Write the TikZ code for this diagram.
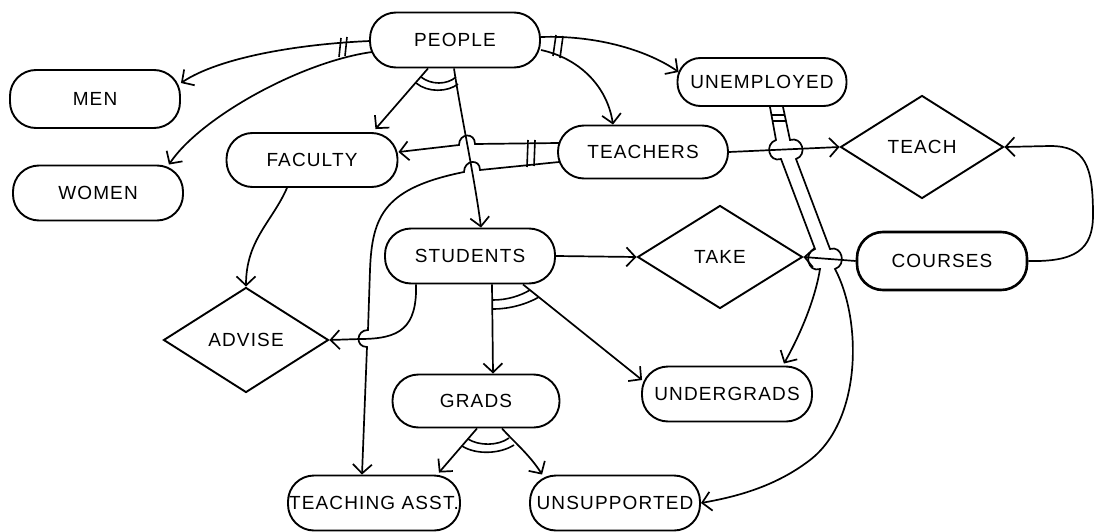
\documentclass[tikz,border=0pt]{standalone}
\usepackage{fontspec}
\setmainfont{Liberation Sans}[LetterSpace=6]
\usetikzlibrary{shapes.geometric,arrows.meta,calc}
\begin{document}
\begin{tikzpicture}[x=1pt,y=-1pt,
  every node/.style={font=\fontsize{19}{21}\selectfont},
  entity/.style={draw, line width=1.9pt, rectangle, rounded corners=26pt,
    minimum width=170pt, minimum height=55pt, inner sep=0pt},
  rel/.style={draw, line width=1.9pt, diamond, inner sep=0pt},
  isa/.style={line width=1.7pt, -{Straight Barb[length=9pt,width=19pt,line width=1.7pt]}},
  tickmark/.style={line width=1.6pt}
]
\useasboundingbox (0,0) rectangle (1094,532);
\fill[white] (0,0) rectangle (1094,532);

% entities
\node[entity] (people) at (455,40) {PEOPLE};
\node[entity, minimum height=58pt] (men) at (95,99) {MEN};
\node[entity] (women) at (98,193) {WOMEN};
\node[entity, minimum width=171pt, minimum height=54pt] (faculty) at (312,160) {FACULTY};
\node[entity, minimum height=53pt] (teachers) at (643,152) {TEACHERS};
\node[entity, minimum width=169pt, minimum height=48pt, rounded corners=23pt] (unemployed) at (762,82) {UNEMPLOYED};
\node[entity, minimum height=58pt, line width=2.6pt] (courses) at (942,261) {COURSES};
\node[entity] (students) at (470,256) {STUDENTS};
\node[entity, minimum width=167pt, minimum height=53pt] (grads) at (476,401) {GRADS};
\node[entity] (undergrads) at (727,394) {UNDERGRADS};
\node[entity, minimum width=172pt] (ta) at (374,503) {TEACHING ASST.};
\node[entity] (unsup) at (615,503) {UNSUPPORTED};

% relationships
\node[rel, minimum width=163pt, minimum height=103pt] (teach) at (922,147) {TEACH};
\node[rel, minimum width=165pt, minimum height=103pt] (take) at (720,257) {TAKE};
\node[rel, minimum width=165pt, minimum height=105pt] (advise) at (246,340) {ADVISE};

% PEOPLE -> MEN, WOMEN
\draw[isa] ($(people.west)+(1,1)$) .. controls (300,44) and (220,57) .. ($(men.east)+(0,-16)$);
\draw[isa] ($(people.west)+(3,12)$) .. controls (300,62) and (200,118) .. ($(women.north east)+(-15,0)$);
\draw[tickmark] (341,38) -- (339,57);
\draw[tickmark] (347,37) -- (345,56);

% PEOPLE -> FACULTY, STUDENTS
\draw[isa] ($(people.south)+(-27,0)$) -- ($(faculty.north east)+(-23,-3)$);
\draw[isa] ($(people.south)+(-1,0)$) .. controls (460,110) and (475,180) .. ($(students.north)+(11,0)$);
\draw[tickmark] (416,83) .. controls (428,93) and (448,92) .. (458,84);
\draw[tickmark] (421,77) .. controls (431,85) and (447,85) .. (456,77);

% PEOPLE -> UNEMPLOYED, TEACHERS
\draw[isa] ($(people.east)+(0,-3)$) .. controls (600,35) and (650,52) .. ($(unemployed.west)+(2,-10)$);
\draw[isa] ($(people.east)+(0,10)$) .. controls (578,58) and (607,85) .. ($(teachers.north)+(-30,0)$);
\draw[tickmark] (556,35) -- (553,56);
\draw[tickmark] (563,36) -- (560,58);

% TEACHERS -> FACULTY, TEACHING ASST.
\draw[isa] ($(teachers.west)+(2,-9)$) -- (475,144) .. controls +(0,-12) and +(0,-12) .. (459,145) -- ($(faculty.east)+(0,-8)$);
\draw[isa] ($(teachers.west)+(2,10)$) -- (480,170) .. controls +(0,-12) and +(0,-12) .. (464,172)
  .. controls (385,188) and (372,215) .. (370,270) -- (368,330)
  .. controls +(-12,0) and +(-12,0) .. (367,347) -- ($(ta.north)+(-12,0)$);
\draw[tickmark] (528,140) -- (527,167);
\draw[tickmark] (535,140) -- (534,166);

% TEACHERS -> TEACH <- COURSES
\draw[isa] (teachers.east) -- (teach.west);
\draw[isa] (courses.east) .. controls (1075,262) and (1093,250) .. (1093,215)
  .. controls (1093,165) and (1085,146) .. (1050,146) -- (teach.east);

% STUDENTS -> TAKE <- COURSES
\draw[isa] (students.east) -- (take.west);
\draw[isa] (courses.west) -- (take.east);

% ADVISE
\draw[isa] ($(students.south west)+(32,0)$) .. controls (417,328) and (400,339) .. (360,339) -- (advise.east);
\draw[isa] ($(faculty.south)+(-25,0)$) .. controls (272,222) and (246,240) .. (advise.north);

% STUDENTS -> GRADS, UNDERGRADS
\draw[isa] ($(students.south)+(22,0)$) -- ($(grads.north)+(17,0)$);
\draw[isa] ($(students.south)+(53,0)$) -- ($(undergrads.west)+(1,-14)$);
\draw[tickmark] (493,309) .. controls (510,309) and (527,304) .. (539,297);
\draw[tickmark] (493,300) .. controls (507,300) and (520,296) .. (530,290);

% GRADS -> TEACHING ASST., UNSUPPORTED
\draw[isa] ($(grads.south)+(1,0)$) -- ($(ta.north east)+(-22,-2)$);
\draw[isa] ($(grads.south)+(26,0)$) .. controls (512,440) and (530,455) .. ($(unsup.north west)+(13,0)$);
\draw[tickmark] (462,446) .. controls (476,455) and (500,454) .. (514,445);
\draw[tickmark] (468,439) .. controls (479,446) and (498,446) .. (509,438);

% UNEMPLOYED -> UNDERGRADS, UNSUPPORTED
\draw[isa] ($(unemployed.south)+(8,0)$) -- (776,140) .. controls +(-12,4) and +(-12,4) .. (781,159)
  -- (815,249) .. controls +(-12,4) and +(-12,4) .. (820,269)
  .. controls (815,300) and (800,335) .. ($(undergrads.north east)+(-29,-2)$);
\draw[isa] ($(unemployed.south)+(21,0)$) -- (790,140) .. controls +(12,-4) and +(12,-4) .. (796,159)
  -- (830,249) .. controls +(12,-4) and +(12,-4) .. (835,269)
  .. controls (862,320) and (862,420) .. (810,460)
  .. controls (775,487) and (735,497) .. (unsup.east);
\draw[tickmark] (772,115) -- (785,115);
\draw[tickmark] (773,121) -- (786,121);
\end{tikzpicture}
\end{document}
